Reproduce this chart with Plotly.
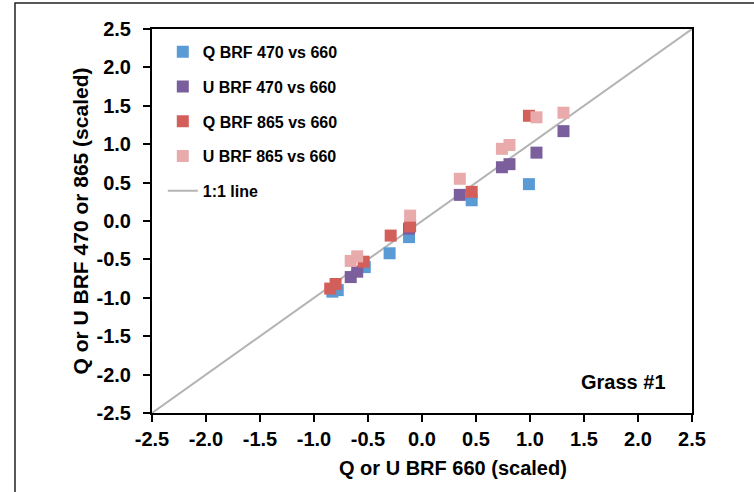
import plotly.graph_objects as go

# ---- data ----
q470_x = [-0.83, -0.78, -0.53, -0.30, -0.12, 0.46, 0.99]
q470_y = [-0.92, -0.90, -0.60, -0.42, -0.21, 0.27, 0.48]

u470_x = [-0.66, -0.60, -0.12, 0.35, 0.74, 0.81, 1.06, 1.31]
u470_y = [-0.73, -0.66, -0.10, 0.34, 0.70, 0.74, 0.89, 1.17]

q865_x = [-0.85, -0.80, -0.54, -0.29, -0.11, 0.46, 0.99]
q865_y = [-0.88, -0.82, -0.53, -0.19, -0.07, 0.38, 1.37]

u865_x = [-0.66, -0.60, -0.11, 0.35, 0.74, 0.81, 1.06, 1.31]
u865_y = [-0.52, -0.46, 0.07, 0.55, 0.94, 0.99, 1.35, 1.41]

line_x = [-2.5, 2.5]
line_y = [-2.5, 2.5]

tick_vals = [-2.5, -2.0, -1.5, -1.0, -0.5, 0.0, 0.5, 1.0, 1.5, 2.0, 2.5]
tick_text = ["-2.5", "-2.0", "-1.5", "-1.0", "-0.5", "0.0", "0.5", "1.0", "1.5", "2.0", "2.5"]

series = [
    ("Q BRF 470 vs 660", q470_x, q470_y, "#5B9BD5"),
    ("U BRF 470 vs 660", u470_x, u470_y, "#7B5F9C"),
    ("Q BRF 865 vs 660", q865_x, q865_y, "#D35F5B"),
    ("U BRF 865 vs 660", u865_x, u865_y, "#E8AAAA"),
]

FONT = "Liberation Sans, Arial, sans-serif"

fig = go.Figure()
fig.add_trace(go.Scatter(x=line_x, y=line_y, mode="lines", name="1:1 line",
                         line=dict(color="#B4B4B4", width=2), legendrank=5,
                         legendgroup="g5"))
for i, (name, xs, ys, col) in enumerate(series):
    fig.add_trace(go.Scatter(x=xs, y=ys, mode="markers", name=name,
                             marker=dict(symbol="square", size=12, color=col,
                                         line=dict(width=0)),
                             legendrank=i + 1, legendgroup="g%d" % i))

# plot-area pixel geometry
L, R, T, B = 152, 692, 29, 413
W, H = 754, 492
def px(xp):
    return (xp - L) / (R - L)
def py(yp):
    return (B - yp) / (B - T)

fig.add_shape(type="rect", xref="paper", yref="paper",
              x0=px(15), x1=px(770), y0=py(510), y1=py(3),
              line=dict(color="#222222", width=1.5), fillcolor="rgba(0,0,0,0)",
              layer="below")

fig.add_annotation(x=px(668), y=py(382), xref="paper", yref="paper",
                   text="<b>Grass #1</b>",
                   showarrow=False, xanchor="right", yanchor="middle",
                   font=dict(family=FONT, size=20, color="#000000"))

# x-axis title (offset to the right, as in the reference)
fig.add_annotation(x=px(453), y=py(468), xref="paper", yref="paper",
                   text="<b>Q or U BRF 660 (scaled)</b>",
                   showarrow=False, xanchor="center", yanchor="middle",
                   font=dict(family=FONT, size=20, color="#000000"))

axis_common = dict(range=[-2.5, 2.5], tickvals=tick_vals, ticktext=tick_text,
                   showgrid=False, zeroline=False, showline=True, mirror=True,
                   linecolor="#000000", linewidth=2, ticks="outside", ticklen=7,
                   tickwidth=1.5, tickcolor="#000000",
                   tickfont=dict(family=FONT, size=20, color="#000000", weight="bold"))

fig.update_layout(
    width=W, height=H,
    margin=dict(l=L, r=W - R, t=T, b=H - B, pad=0),
    paper_bgcolor="white", plot_bgcolor="white",
    showlegend=True,
    legend=dict(x=0.02, y=0.985, xanchor="left", yanchor="top",
                font=dict(family=FONT, size=16, color="#000000", weight="bold"),
                bgcolor="rgba(0,0,0,0)", tracegroupgap=11, itemwidth=30),
    xaxis=dict(**axis_common, ticklabelstandoff=0),
    yaxis=dict(**axis_common, ticklabelstandoff=8,
               title=dict(text="<b>Q or U BRF 470 or 865 (scaled)</b>", standoff=2,
                          font=dict(family=FONT, size=21, color="#000000"))),
)

fig.write_html("out.html")
